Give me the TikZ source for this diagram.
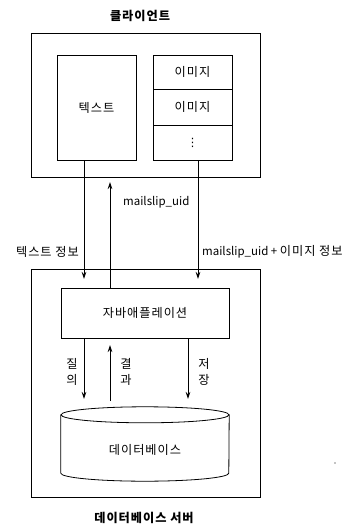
\documentclass[tikz,border=0pt]{standalone}
\usepackage{fontspec}
\setmainfont{Noto Sans CJK KR}
\newfontfamily\kr{Noto Sans CJK KR}[LetterSpace=8,Scale=1.06]
\newfontfamily\dvs{DejaVu Sans}
\usetikzlibrary{arrows.meta}
\begin{document}
\begin{tikzpicture}[x=1pt,y=-1pt,
  box/.style={draw,line width=0.8pt,inner sep=0pt},
  lbl/.style={font=\fontsize{11.5}{13}\selectfont,inner sep=0pt},
  ttl/.style={font=\fontsize{11.5}{14}\selectfont\bfseries,inner sep=0pt},
  arr/.style={line width=0.8pt,-{Stealth[length=7pt,width=4.5pt]}},
  ln/.style={line width=0.8pt}]
\useasboundingbox (0,0) rectangle (360,526);
% client
\node[ttl] (ctitle) at (140,16) {\kr 클라이언트};
\node[box,minimum width=229,minimum height=144] (client) at (145.5,105) {};
\node[box,minimum width=79,minimum height=105,lbl] (textbox) at (96.5,107.5) {\kr 텍스트};
\node[box,minimum width=79,minimum height=34,lbl] (img1) at (192.5,72) {\kr 이미지};
\node[box,minimum width=79,minimum height=36,lbl] (img2) at (192.5,107) {\kr 이미지};
\node[box,minimum width=79,minimum height=35,lbl] (img3) at (192.5,142.5) {\dvs ⋮};
% server
\node[box,minimum width=229,minimum height=228] (server) at (145.5,383) {};
\node[ttl] (stitle) at (144,518) {\kr 데이터베이스 서버};
\node[box,minimum width=168,minimum height=50,lbl] (app) at (145,313) {\kr 자바애플레이션};
% database cylinder
\node[minimum width=168,minimum height=58,inner sep=0pt] (db) at (145,444) {};
\node[lbl] (dbtext) at (145,450) {\kr 데이터베이스};
\draw[ln] (db.north west) -- (db.south west) arc[start angle=180,end angle=360,x radius=84pt,y radius=8pt] -- (db.north east);
\draw[ln] (db.north) ellipse[x radius=84pt,y radius=8pt];
% arrows between client and server
\coordinate (a1) at (84,279);
\coordinate (u1) at (110,182);
\coordinate (r1) at (198,279);
\draw[arr] (textbox.south -| a1) -- (a1);
\draw[arr] (app.north -| u1) -- (u1);
\draw[arr] (img3.south -| r1) -- (r1);
\node[lbl,anchor=west] (l1) at (123,202) {mailslip\_uid};
\node[lbl,anchor=east] (l2) at (79,252) {\kr 텍스트 정보};
\node[lbl,anchor=west] (l3) at (202,252) {mailslip\_uid + {\kr 이미지 정보}};
% arrows between app and db
\coordinate (q1) at (84,399);
\coordinate (rs) at (110,345);
\coordinate (rb) at (110,401);
\coordinate (s1) at (188,399);
\draw[arr] (app.south -| q1) -- (q1);
\draw[arr] (rb) -- (rs);
\draw[arr] (app.south -| s1) -- (s1);
\node[lbl,align=center] (lq) at (72,372) {\kr 질\\[3pt]\kr 의};
\node[lbl,align=center] (lr) at (126,372) {\kr 결\\[3pt]\kr 과};
\node[lbl,align=center] (ls) at (204,372) {\kr 저\\[3pt]\kr 장};
% stray dot
\fill (335,463) circle (0.6pt);
\end{tikzpicture}
\end{document}
